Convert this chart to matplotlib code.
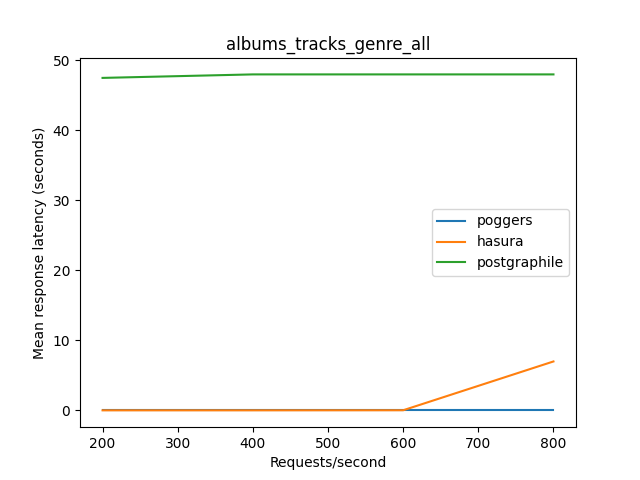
import matplotlib
matplotlib.use("Agg")
import matplotlib.pyplot as plt

rps = [200, 400, 600, 800]
poggers = [0.01, 0.01, 0.01, 0.01]
hasura = [0.02, 0.02, 0.03, 7.0]
postgraphile = [47.5, 48.0, 48.0, 48.0]

fig, ax = plt.subplots(figsize=(6.4, 4.8), dpi=100)
ax.plot(rps, poggers, label="poggers")
ax.plot(rps, hasura, label="hasura")
ax.plot(rps, postgraphile, label="postgraphile")
ax.set_title("albums_tracks_genre_all")
ax.set_xlabel("Requests/second")
ax.set_ylabel("Mean response latency (seconds)")
ax.legend()
fig.savefig("out.png")
